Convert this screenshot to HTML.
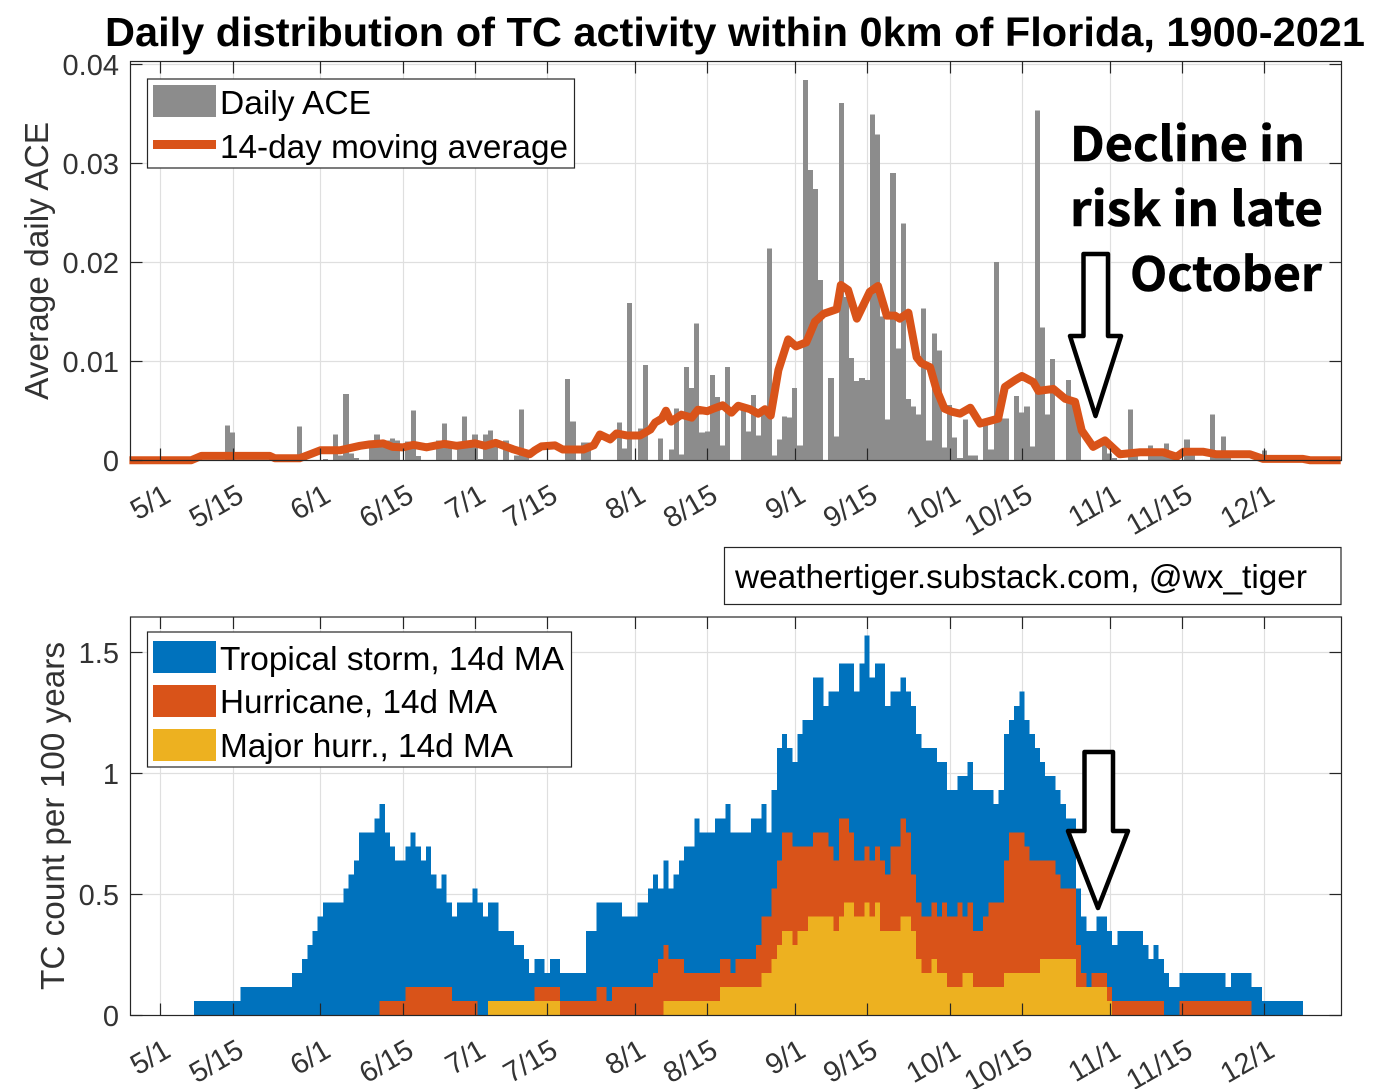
<!DOCTYPE html>
<html lang="en">
<head>
<meta charset="utf-8">
<title>Daily distribution of TC activity within 0km of Florida, 1900-2021</title>
<style>
html,body{margin:0;padding:0;background:#fff;}
svg{display:block;}
text{font-family:"Liberation Sans",Arial,sans-serif;}
.tick{font-size:29px;fill:#333;}
.legend{font-size:33.5px;fill:#000;}
.note{font-family:"Noto Sans CJK SC","Liberation Sans",sans-serif;font-weight:700;font-size:47px;fill:#000;stroke:#000;stroke-width:0.6;}
</style>
</head>
<body>
<svg id="chart" width="1377" height="1089" viewBox="0 0 1377 1089" xmlns="http://www.w3.org/2000/svg">
  <rect x="0" y="0" width="1377" height="1089" fill="#fff"/>
  <text x="105" y="46" font-size="40.5" font-weight="700" fill="#000" textLength="1260" lengthAdjust="spacingAndGlyphs">Daily distribution of TC activity within 0km of Florida, 1900-2021</text>
  <text transform="translate(48 261) rotate(-90)" text-anchor="middle" font-size="33" fill="#333" textLength="278" lengthAdjust="spacingAndGlyphs">Average daily ACE</text>
  <text transform="translate(64 816) rotate(-90)" text-anchor="middle" font-size="33" fill="#333" textLength="348" lengthAdjust="spacingAndGlyphs">TC count per 100 years</text>

  <g id="top-plot"></g>
  <g id="bottom-plot"></g>

  <g>
    <rect x="147.5" y="79" width="427" height="89" fill="#fff" stroke="#262626" stroke-width="1.2"/>
    <rect x="153" y="85" width="63" height="32" fill="#8c8c8c"/>
    <text class="legend" x="220" y="114" textLength="151" lengthAdjust="spacingAndGlyphs">Daily ACE</text>
    <rect x="153" y="140" width="63" height="9" fill="#d95319"/>
    <text class="legend" x="220" y="158" textLength="348" lengthAdjust="spacingAndGlyphs">14-day moving average</text>
  </g>

  <g>
    <rect x="147.5" y="632" width="424" height="135" fill="#fff" stroke="#262626" stroke-width="1.2"/>
    <rect x="153" y="641" width="63" height="32" fill="#0072bd"/>
    <text class="legend" x="220" y="670" textLength="344" lengthAdjust="spacingAndGlyphs">Tropical storm, 14d MA</text>
    <rect x="153" y="685" width="63" height="32" fill="#d95319"/>
    <text class="legend" x="220" y="713" textLength="277" lengthAdjust="spacingAndGlyphs">Hurricane, 14d MA</text>
    <rect x="153" y="729" width="63" height="32" fill="#edb120"/>
    <text class="legend" x="220" y="757" textLength="293" lengthAdjust="spacingAndGlyphs">Major hurr., 14d MA</text>
  </g>

  <g>
    <rect x="724.5" y="547.5" width="616.5" height="57" fill="#fff" stroke="#262626" stroke-width="1.2"/>
    <text x="735" y="588" font-size="33.5" fill="#000" textLength="572" lengthAdjust="spacingAndGlyphs">weathertiger.substack.com, @wx_tiger</text>
  </g>

  <g>
    <text class="note" x="1070" y="161" textLength="235" lengthAdjust="spacingAndGlyphs">Decline in</text>
    <text class="note" x="1070" y="226" textLength="253" lengthAdjust="spacingAndGlyphs">risk in late</text>
    <text class="note" x="1130" y="291" textLength="192" lengthAdjust="spacingAndGlyphs">October</text>
    <polygon points="1083.5,254 1108,254 1108,336 1121,336 1095.5,416 1070,336 1083.5,336" fill="#fff" stroke="#000" stroke-width="4.5" stroke-linejoin="round"/>
    <polygon points="1084.5,752 1113,752 1113,831 1128,831 1098,908 1068,831 1084.5,831" fill="#fff" stroke="#000" stroke-width="4.5" stroke-linejoin="round"/>
  </g>
</svg>
<script>
// ----- Chart data -----
const tickDays = [6,20,37,53,67,81,98,112,129,143,159,173,190,204,220];
const tickDates = ['5/1','5/15','6/1','6/15','7/1','7/15','8/1','8/15','9/1','9/15','10/1','10/15','11/1','11/15','12/1'];
const topYTicks = [0,0.01,0.02,0.03,0.04];
const topYTickLabels = ['0','0.01','0.02','0.03','0.04'];
const bottomYTicks = [0,0.5,1,1.5];
const bottomYTickLabels = ['0','0.5','1','1.5'];

// Daily ACE per day of season (index = day), thousandths
const dailyAceMilli = [
0,0,0,0,0,0,0,0,0,0,
0,0,0,0,0,0,0,0,0,3.5,
2.8,0,0,0,0,0,0,0,0,0,
0,0,0,3.4,0.7,0,0,0,0.1,0,
2.6,0.5,6.7,0.7,0.2,0,0,1.9,2.6,2.0,
2.0,2.2,2.0,0,1.9,5.0,0.4,0,0,0,
2.0,3.7,1.2,0,1.7,4.4,1.5,2.6,0.1,2.6,
3.0,2.0,0,2.0,0,0.5,5.1,1.0,0,0,
0,0,0,0,0,8.2,3.9,0,1.8,1.8,
0,0,0,0,0,3.8,1.2,15.9,0,3.2,
9.6,0,0,2.2,0,1.1,5.2,0.6,9.4,7.3,
13.8,2.8,2.9,8.6,6.4,1.5,9.4,0,0,5.0,
2.9,6.6,2.5,5.0,21.4,0.5,2.1,4.4,4.3,7.3,
1.5,38.4,29.3,27.4,18.2,0,8.3,2.4,36.1,16.5,
10.3,8.0,8.3,8.1,34.9,32.9,14.5,4.1,29.0,11.3,
23.9,6.2,5.4,4.6,15.3,2.0,12.8,11.1,1.3,5.6,
2.3,0.2,4.1,0.5,0.5,0,3.7,1.1,20.0,4.2,
4.2,0,6.5,4.8,5.4,1.4,35.3,13.4,4.6,10.2,
0,0,8.1,6.2,3.7,0,0,0,0,1.5,
0.7,0.2,0,0,5.1,0.4,0,0,1.5,0.4,
0.6,1.7,0.3,0,0,2.1,0.5,0,0,0,
4.6,0.5,2.4,0.3,0,0,0,0,0,0,
1.0,0,0,0,0,0,0,0,0,0,
0,0,0,0,0];

// 14-day moving average vertices
const movingAvgDays = [0,12,14,27.2,28.2,33,35.3,37,40.8,44.7,46.6,49.2,51,53,55,57.6,61,63.4,67,69,71,74.4,77.6,78.6,79.9,82.5,84,88,90,91.2,93.2,94.4,96.4,99,101,101.9,103.2,104,105,107,109,110.2,112,113.2,115,116.7,118,120.3,121.9,123.2,124.3,125.8,127.7,129.2,131.2,132.9,134.6,137.1,137.9,139.3,141,143.5,145.1,146.8,148.4,149.3,151,152.6,153.5,155.2,156.4,158,159.4,161,163,164.9,168.4,169.7,171.7,173,175.2,176.2,179.1,181.4,183.3,184.6,186.8,189.1,192,195.9,200.4,203,204.3,208.2,210.7,217.2,219.8,227.5,228.8,234.8];
const movingAvgMilli = [0,0,0.44,0.44,0.2,0.2,0.65,1.0,1.0,1.45,1.6,1.7,1.35,1.3,1.55,1.3,1.65,1.45,1.7,1.45,1.75,1.1,0.6,1.0,1.4,1.5,1.08,1.08,1.5,2.6,2.1,2.7,2.5,2.5,3.1,3.8,4.2,5,3.9,4.6,4.3,5.1,4.95,5.2,5.55,4.8,5.5,5.15,4.7,5.15,4.5,9.1,12.2,11.5,11.9,14,14.8,15.25,17.7,17.2,14.3,17,17.6,14.6,14.6,14.3,14.9,10.4,9.8,9.4,7.2,5.2,4.9,4.7,5.3,3.7,4.2,7.4,8.1,8.5,7.9,7,7.2,6.2,5.9,3,1.35,2,0.6,0.8,0.8,0.35,0.85,0.85,0.6,0.6,0.13,0.13,0,0];

// 14-day moving counts per day, in window-count units
const countUnit = 100 / (14 * 123);
const tropicalStormCounts = [
0,0,0,0,0,0,0,0,0,0,
0,0,0,1,1,1,1,1,1,1,
1,1,2,2,2,2,2,2,2,2,
2,2,3,3,4,5,6,7,8,8,
8,8,9,10,11,13,13,13,14,15,
13,12,11,11,12,13,12,11,12,10,
9,10,8,7,8,8,8,9,8,7,
8,8,6,6,6,5,5,4,3,4,
4,3,4,4,3,3,3,3,3,6,
6,8,8,8,8,8,7,7,7,8,
8,9,10,9,11,9,10,11,12,12,
14,13,13,13,14,14,15,13,13,13,
13,14,14,15,13,16,19,20,19,18,
20,21,21,24,24,22,23,23,25,25,
25,23,25,27,24,25,25,22,23,23,
24,23,22,20,19,19,19,18,18,16,
16,17,17,18,16,16,16,16,15,16,
20,21,22,23,21,20,19,18,17,17,
16,15,14,14,9,7,6,6,7,7,
6,5,6,6,6,6,6,5,4,5,
4,3,2,2,3,3,3,3,3,3,
3,3,3,2,3,3,3,3,2,2,
1,1,1,1,1,1,1,1,0,0,
0,0,0,0,0];
const hurricaneCounts = [
0,0,0,0,0,0,0,0,0,0,
0,0,0,0,0,0,0,0,0,0,
0,0,0,0,0,0,0,0,0,0,
0,0,0,0,0,0,0,0,0,0,
0,0,0,0,0,0,0,0,0,1,
1,1,1,1,2,2,2,2,2,2,
2,2,2,1,1,1,1,1,0,0,
1,1,1,1,1,1,1,1,1,2,
2,2,2,2,1,1,1,1,1,1,
1,2,2,1,2,2,2,2,2,2,
2,2,3,4,5,4,4,4,3,3,
3,3,3,3,3,4,4,3,4,4,
4,4,5,7,7,9,11,13,13,12,
12,12,12,13,13,13,12,11,14,14,
13,11,11,12,11,12,11,10,12,12,
14,13,10,8,7,7,8,7,8,7,
7,8,7,8,6,6,7,8,8,8,
11,13,13,13,12,11,11,11,11,11,
10,9,9,9,5,3,2,3,3,3,
2,1,1,1,1,1,1,1,1,1,
1,0,0,0,1,1,1,1,1,1,
1,1,1,1,1,1,1,1,0,0,
0,0,0,0,0,0,0,0,0,0,
0,0,0,0,0];
const majorHurricaneCounts = [
0,0,0,0,0,0,0,0,0,0,
0,0,0,0,0,0,0,0,0,0,
0,0,0,0,0,0,0,0,0,0,
0,0,0,0,0,0,0,0,0,0,
0,0,0,0,0,0,0,0,0,0,
0,0,0,0,0,0,0,0,0,0,
0,0,0,0,0,0,0,0,0,0,
1,1,1,1,1,1,1,1,1,1,
1,1,1,1,0,0,0,0,0,0,
0,0,0,0,0,0,0,0,0,0,
0,0,0,0,1,1,1,1,1,1,
1,1,1,1,1,2,2,2,2,2,
2,2,2,3,3,4,5,6,6,5,
6,6,7,7,7,7,7,6,7,8,
8,7,7,8,7,8,6,6,6,6,
7,7,6,4,3,3,4,3,3,2,
2,2,3,3,2,2,2,2,2,2,
3,3,3,3,3,3,3,4,4,4,
4,4,4,4,2,2,2,2,2,2,
1,0,0,0,0,0,0,0,0,0,
0,0,0,0,0,0,0,0,0,0,
0,0,0,0,0,0,0,0,0,0,
0,0,0,0,0,0,0,0,0,0,
0,0,0,0,0];

// ----- Axis functions -----
const PLOT_LEFT = 130.5, PLOT_RIGHT = 1341.5;
const TOP_AXIS_TOP = 61.5, TOP_AXIS_BOTTOM = 460.5;
const BOT_AXIS_TOP = 617, BOT_AXIS_BOTTOM = 1015.5;
const PX_PER_DAY = 5.159;
function xAt(day){ return 129.4 + PX_PER_DAY * day; }
function yTop(ace){ return 460.2 - ace * 9900; }
function yBottom(value){ return 1015.2 - value * 242.2; }

const NS = 'http://www.w3.org/2000/svg';
function make(tag, parent){
  const el = document.createElementNS(NS, tag);
  parent.appendChild(el);
  return el;
}
function setAll(el, attrs){
  for (const k in attrs) el.setAttribute(k, attrs[k]);
}

function drawGrid(parent, yFn, yValues, axisTop, axisBottom, prefix){
  tickDays.forEach(function(day, i){
    const x = Math.round(xAt(day)) + 0.5;
    const line = make('line', parent);
    setAll(line, {x1:x, x2:x, y1:axisTop, y2:axisBottom, stroke:'#dfdfdf', 'stroke-width':1.2});
    
    
  });
  yValues.forEach(function(v){
    if (v === 0) return;
    const y = Math.round(yFn(v)) + 0.5;
    const line = make('line', parent);
    setAll(line, {x1:PLOT_LEFT, x2:PLOT_RIGHT, y1:y, y2:y, stroke:'#dfdfdf', 'stroke-width':1.2});
    
    
  });
}

function drawAxes(parent, yFn, yValues, yLabels, axisTop, axisBottom, prefix){
  const box = make('rect', parent);
  setAll(box, {x:PLOT_LEFT, y:axisTop, width:PLOT_RIGHT-PLOT_LEFT, height:axisBottom-axisTop, fill:'none', stroke:'#262626', 'stroke-width':1.2});
  
  
  tickDays.forEach(function(day, i){
    const x = Math.round(xAt(day)) + 0.5;
    [[axisBottom, axisBottom-12],[axisTop, axisTop+12]].forEach(function(p){
      const t = make('line', parent);
      setAll(t, {x1:x, x2:x, y1:p[0], y2:p[1], stroke:'#262626', 'stroke-width':1.2});
      
      
    });
    const label = make('text', parent);
    const lx = x + 12, ly = axisBottom + 40;
    setAll(label, {x:lx, y:ly, 'text-anchor':'end', transform:'rotate(-30 '+lx+' '+ly+')', 'class':'tick'});
    label.textContent = tickDates[i];
    
    
  });
  yValues.forEach(function(v, i){
    const y = Math.round(yFn(v)) + 0.5;
    [[PLOT_LEFT, PLOT_LEFT+12],[PLOT_RIGHT, PLOT_RIGHT-12]].forEach(function(p){
      const t = make('line', parent);
      setAll(t, {x1:p[0], x2:p[1], y1:y, y2:y, stroke:'#262626', 'stroke-width':1.2});
      
      
    });
    const label = make('text', parent);
    setAll(label, {x:119, y:y+10.5, 'text-anchor':'end', 'class':'tick'});
    label.textContent = yLabels[i];
    
    
  });
}

function stairPath(counts){
  let d = '';
  let started = false;
  counts.forEach(function(k, day){
    const left = (xAt(day) - PX_PER_DAY/2).toFixed(2);
    const right = (xAt(day) + PX_PER_DAY/2).toFixed(2);
    const y = yBottom(k * countUnit).toFixed(2);
    if (!started){
      d += 'M' + left + ' ' + yBottom(0).toFixed(2);
      started = true;
    }
    d += 'L' + left + ' ' + y + 'L' + right + ' ' + y;
  });
  d += 'L' + (xAt(counts.length-1) + PX_PER_DAY/2).toFixed(2) + ' ' + yBottom(0).toFixed(2) + 'Z';
  return d;
}

// ----- Top panel -----
const topG = document.getElementById('top-plot');
drawGrid(topG, yTop, topYTicks, TOP_AXIS_TOP, TOP_AXIS_BOTTOM, 'top');
dailyAceMilli.forEach(function(v, day){
  if (v <= 0) return;
  const bar = make('rect', topG);
  const x0 = Math.round(xAt(day) - PX_PER_DAY/2);
  const x1 = Math.round(xAt(day) + PX_PER_DAY/2);
  const top = yTop(v / 1000);
  setAll(bar, {x:x0, y:top, width:x1-x0, height:460.5-top, fill:'#8c8c8c', 'shape-rendering':'crispEdges'});
  
  
});
const maLine = make('polyline', topG);
setAll(maLine, {
  points: movingAvgDays.map(function(day, i){ return xAt(day).toFixed(2) + ',' + yTop(movingAvgMilli[i] / 1000).toFixed(2); }).join(' '),
  fill:'none', stroke:'#d95319', 'stroke-width':8, 'stroke-linejoin':'round', 'stroke-linecap':'butt'
});


drawAxes(topG, yTop, topYTicks, topYTickLabels, TOP_AXIS_TOP, TOP_AXIS_BOTTOM, 'top');

// ----- Bottom panel -----
const botG = document.getElementById('bottom-plot');
drawGrid(botG, yBottom, bottomYTicks, BOT_AXIS_TOP, BOT_AXIS_BOTTOM, 'bottom');
const tsArea = make('path', botG);
setAll(tsArea, {d:stairPath(tropicalStormCounts), fill:'#0072bd', 'shape-rendering':'crispEdges'});


const hurArea = make('path', botG);
setAll(hurArea, {d:stairPath(hurricaneCounts), fill:'#d95319', 'shape-rendering':'crispEdges'});


const majArea = make('path', botG);
setAll(majArea, {d:stairPath(majorHurricaneCounts), fill:'#edb120', 'shape-rendering':'crispEdges'});


drawAxes(botG, yBottom, bottomYTicks, bottomYTickLabels, BOT_AXIS_TOP, BOT_AXIS_BOTTOM, 'bottom');
</script>
</body>
</html>
